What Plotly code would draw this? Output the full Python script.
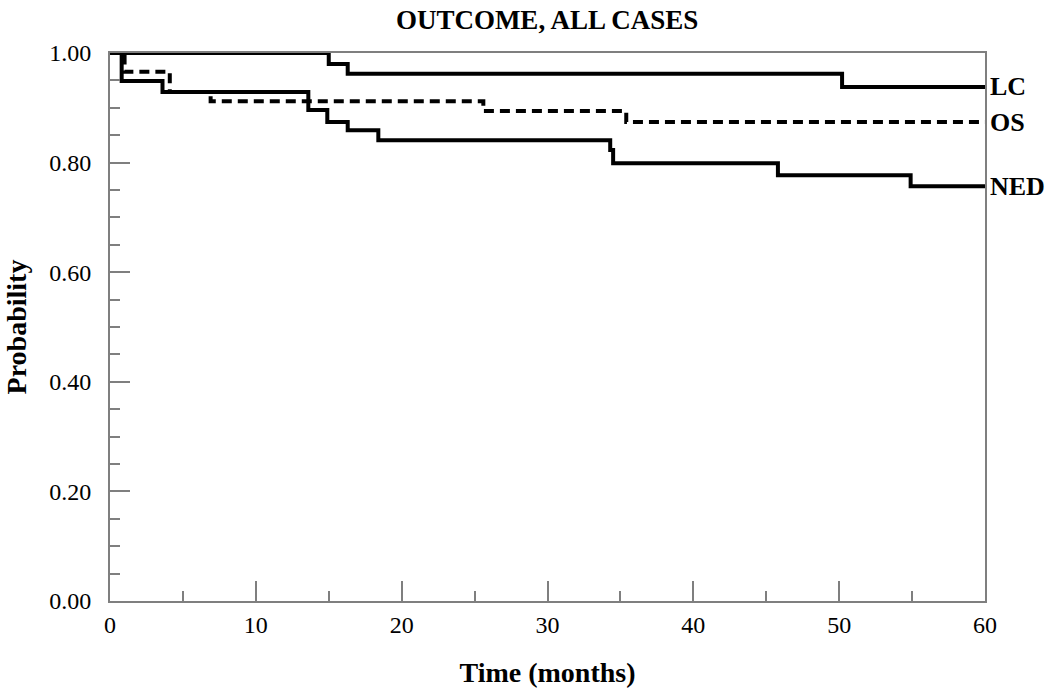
import plotly.graph_objects as go

# Kaplan-Meier style step data (time in months, probability)
lc_time = [0, 15.0, 16.3, 50.2, 60]
lc_prob = [1.00, 0.980, 0.962, 0.938, 0.938]

os_time = [0, 1.0, 4.1, 6.9, 25.6, 35.4, 60]
os_prob = [1.00, 0.966, 0.929, 0.912, 0.894, 0.874, 0.874]

ned_time = [0, 0.8, 3.6, 13.6, 14.9, 16.3, 18.4, 34.3, 34.5, 45.8, 54.9, 60]
ned_prob = [1.00, 0.949, 0.929, 0.896, 0.874, 0.859, 0.841, 0.823, 0.799, 0.777, 0.757, 0.757]

labels = ["LC", "OS", "NED"]

SERIF = "Liberation Serif, Times New Roman, serif"
AXIS_GRAY = "#7f7f7f"

fig = go.Figure()
fig.add_trace(go.Scatter(x=os_time, y=os_prob, mode="lines", line_shape="hv",
                         line=dict(color="black", width=4, dash="10px,6px"),
                         cliponaxis=False, name="OS"))
fig.add_trace(go.Scatter(x=ned_time, y=ned_prob, mode="lines", line_shape="hv",
                         line=dict(color="black", width=4),
                         cliponaxis=False, name="NED"))
fig.add_trace(go.Scatter(x=lc_time, y=lc_prob, mode="lines", line_shape="hv",
                         line=dict(color="black", width=4),
                         cliponaxis=False, name="LC"))

ends = {"LC": lc_prob[-1], "OS": os_prob[-1], "NED": ned_prob[-1]}
for lab in labels:
    fig.add_annotation(x=60, y=ends[lab], text=lab, showarrow=False,
                       xanchor="left", yanchor="middle", xshift=3,
                       font=dict(family=SERIF, size=26, color="black", weight="bold"))

fig.update_layout(
    width=1050, height=690,
    margin=dict(l=110, r=65, t=53, b=89, autoexpand=False),
    paper_bgcolor="white", plot_bgcolor="white",
    showlegend=False,
    title=dict(text="<b>OUTCOME, ALL CASES</b>", x=0.521, xanchor="center",
               y=0.971, yanchor="middle",
               font=dict(family=SERIF, size=27, color="black")),
    font=dict(family=SERIF, color="black"),
)

fig.update_xaxes(
    range=[0, 60], tickmode="linear", tick0=0, dtick=10,
    ticks="inside", ticklen=20, tickwidth=1.5, tickcolor=AXIS_GRAY,
    minor=dict(dtick=5, ticks="inside", ticklen=10, tickwidth=1.5, tickcolor=AXIS_GRAY),
    showline=True, linecolor=AXIS_GRAY, linewidth=2, mirror=True,
    showgrid=False, zeroline=False, automargin=False,
    tickfont=dict(family=SERIF, size=24, color="black"),
    ticklabelstandoff=1,
    title=dict(text="<b>Time (months)</b>", standoff=26,
               font=dict(family=SERIF, size=28, color="black")),
)
fig.update_yaxes(
    range=[0, 1], tickmode="linear", tick0=0, dtick=0.2, tickformat=".2f",
    ticks="inside", ticklen=20, tickwidth=1.5, tickcolor=AXIS_GRAY,
    minor=dict(dtick=0.05, ticks="inside", ticklen=10, tickwidth=1.5, tickcolor=AXIS_GRAY),
    showline=True, linecolor=AXIS_GRAY, linewidth=2, mirror=True,
    showgrid=False, zeroline=False, automargin=False,
    tickfont=dict(family=SERIF, size=24, color="black"),
    ticklabelstandoff=12,
    title=dict(text="<b>Probability</b>", standoff=14,
               font=dict(family=SERIF, size=28, color="black")),
)

fig.write_html("out.html",
               config={"displayModeBar": False},
               post_script="document.body.style.margin='0';document.body.style.padding='0';")
